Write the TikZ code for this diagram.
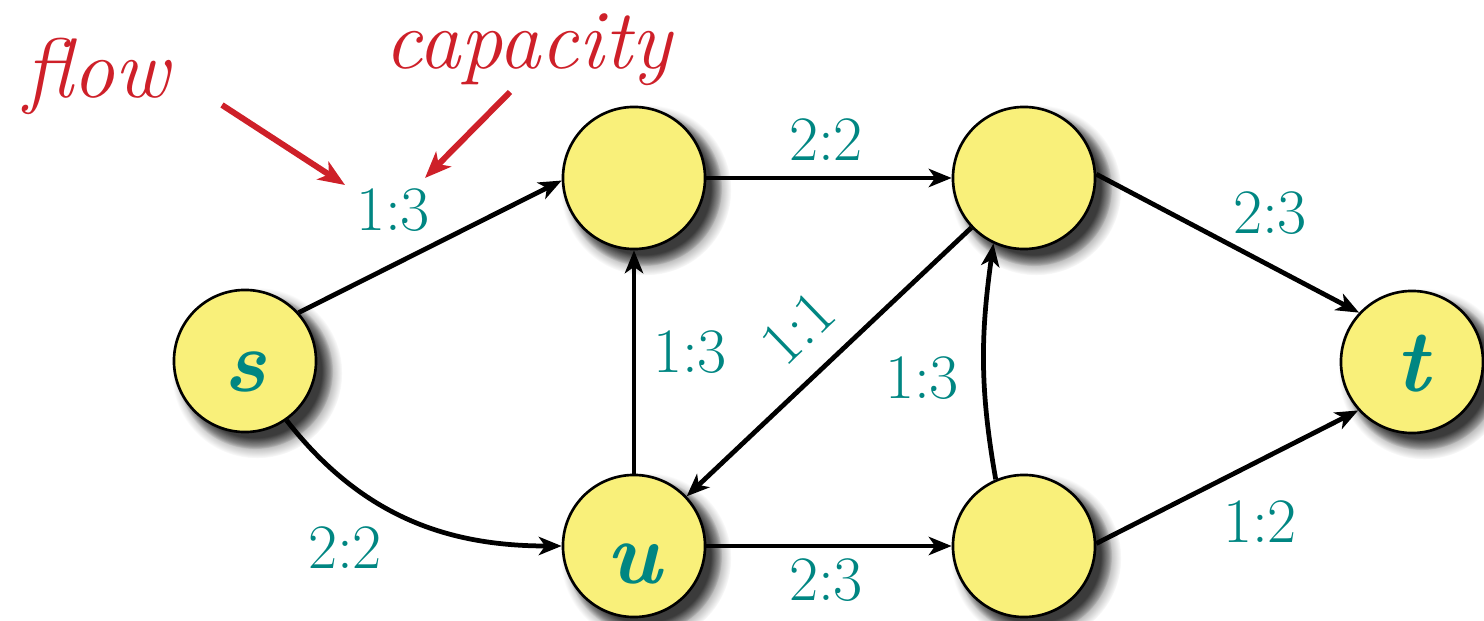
\documentclass[tikz,border=0pt]{standalone}
\usetikzlibrary{arrows.meta,shadows}
\definecolor{nodeyellow}{RGB}{249,240,122}
\definecolor{labteal}{RGB}{0,134,130}
\definecolor{annred}{RGB}{206,32,41}
\begin{document}
\begin{tikzpicture}[x=0.01cm,y=0.01cm,
 vert/.style={circle, draw=black, line width=0.75pt, fill=nodeyellow, minimum size=1.42cm, inner sep=0pt, text=labteal,
   font=\rmfamily\fontsize{25}{30}\selectfont\bfseries\itshape,
   circular drop shadow={shadow xshift=0.1cm, shadow yshift=-0.1cm, shadow scale=1.2, fill=black, opacity=0.3},
   circular drop shadow={shadow xshift=0.09cm, shadow yshift=-0.09cm, shadow scale=1.1, fill=black!85, opacity=0.85}},
 edge/.style={line width=1.35pt, -{Stealth[length=6.5pt,width=5.2pt,inset=1.8pt]}},
 lab/.style={text=labteal, font=\rmfamily\fontsize{18}{21}\selectfont, inner sep=0pt},
 ann/.style={text=annred, font=\rmfamily\fontsize{24}{28}\selectfont\itshape, inner sep=0pt},
 annarrow/.style={draw=annred, line width=1.7pt, -{Stealth[length=7.5pt,width=6pt,inset=2pt]}}]
\useasboundingbox (0,0) rectangle (1484,621);
% vertices
\node[vert] (s) at (245,260) {\raisebox{-3pt}[\height][\depth]{s}};
\node[vert] (a) at (634,443) {};
\node[vert] (b) at (1024,443) {};
\node[vert] (u) at (634,75) {\raisebox{-5pt}[\height][\depth]{u}};
\node[vert] (c) at (1024,75) {};
\node[vert] (t) at (1412,259) {\raisebox{-0.5pt}[\height][\depth]{t}};
% edges
\draw[edge] (s.42) -- (a.182);
\draw[edge] (s.-55) to[out=-52, in=180] (u.west);
\draw[edge] (a.east) -- (b.west);
\draw[edge] (u.north) -- (a.south);
\draw[edge] (b) -- (u);
\draw[edge] (c.113) to[out=100, in=-98] (b.-115);
\draw[edge] (b.3) -- (t.137);
\draw[edge] (u.east) -- (c.west);
\draw[edge] (c.2) -- (t.-138);
% edge labels
\node[lab] (l1) at (393,411) {1:3};
\node[lab] (l2) at (826,481) {2:2};
\node[lab] (l3) at (1270,408) {2:3};
\node[lab] (l4) at (690,269) {1:3};
\node[lab, rotate=44] (l5) at (798,293) {1:1};
\node[lab] (l6) at (922,243) {1:3};
\node[lab] (l7) at (345,73) {2:2};
\node[lab] (l8) at (826,41) {2:3};
\node[lab] (l9) at (1260,99) {1:2};
% annotations
\node[ann] (flow) at (97,545) {flow};
\node[ann] (cap) at (528,571) {capacity};
\coordinate (fa) at (222,516);
\coordinate (fb) at (345,436);
\coordinate (ca) at (510,529);
\coordinate (cb) at (425,443);
\draw[annarrow] (fa) -- (fb);
\draw[annarrow] (ca) -- (cb);
\end{tikzpicture}
\end{document}
